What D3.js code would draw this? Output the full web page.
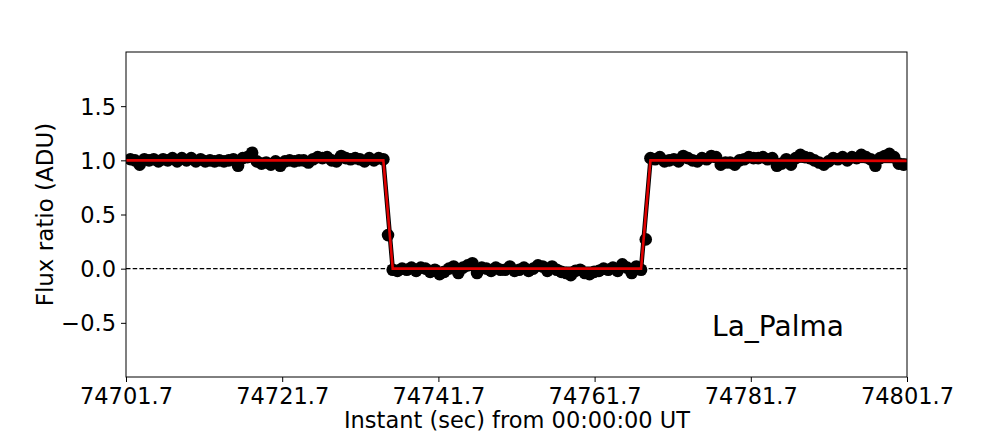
<!DOCTYPE html>
<html>
<head>
<meta charset="utf-8">
<script src="https://cdn.jsdelivr.net/npm/d3@7"></script>
<style>
  html, body { margin: 0; padding: 0; background: #fff; }
  svg { display: block; font-family: "DejaVu Sans", sans-serif; }
</style>
</head>
<body>
<svg id="chart" width="1008" height="432"></svg>
<script>
// ---- data ----
const startTime = 74702.25;   // first sample (s from 00:00:00 UT)
const cadence = 0.6;          // seconds between exposures
const fluxLeft = [
  1.01, 1.00, 0.96, 1.01, 1.00, 1.01, 0.99, 1.01, 1.00, 1.02,
  0.99, 1.02, 1.00, 1.02, 0.99, 1.01, 0.99, 1.00, 0.99, 1.00,
  0.99, 1.00, 1.01, 0.95, 1.02, 1.03, 1.07, 0.99, 0.97, 0.98,
  0.96, 0.99, 0.95, 0.99, 1.00, 0.99, 1.00, 1.00, 0.98, 1.01,
  1.03, 1.02, 1.03, 1.00, 0.99, 1.04, 1.02, 1.01, 1.02, 1.01,
  0.99, 1.02, 1.00, 1.02, 1.01
];
const fluxIngress = [0.31];
const fluxOccult = [
  -0.01, -0.02, 0.00, -0.01, 0.01, -0.02, 0.01, 0.00, -0.03, -0.01,
  -0.05, -0.03, 0.00, 0.02, -0.04, 0.01, 0.03, 0.05, -0.04, 0.01,
  0.00, -0.02, 0.01, -0.01, -0.01, 0.02, -0.02, -0.01, 0.01, -0.02,
  0.00, 0.03, 0.02, -0.02, 0.02, -0.01, -0.03, -0.04, -0.06, -0.02,
  -0.01, -0.04, -0.05, -0.03, -0.02, 0.00, -0.01, 0.01, -0.02, 0.04,
  0.01, -0.04, 0.02, -0.01
];
const fluxEgress = [0.27];
const fluxRight = [
  1.02, 1.01, 1.03, 0.99, 1.00, 1.01, 0.99, 1.04, 1.02, 1.00,
  0.99, 1.02, 1.01, 1.04, 1.03, 0.96, 0.98, 0.98, 0.96, 1.00,
  1.01, 1.03, 1.02, 1.02, 1.03, 1.01, 1.02, 0.95, 0.97, 1.01,
  0.96, 1.02, 1.05, 1.03, 1.02, 1.00, 0.98, 0.96, 0.99, 1.02,
  1.01, 1.03, 1.00, 1.03, 1.02, 1.05, 1.03, 1.01, 0.95, 1.02,
  1.04, 1.06, 1.03, 0.97, 0.96
];
const modelTimes = [74701.7, 74734.65, 74735.85, 74767.65, 74768.85, 74801.7];
const modelFlux  = [1.0, 1.0, 0.0, 0.0, 1.0, 0.995];
const xTicks = [74701.7, 74721.7, 74741.7, 74761.7, 74781.7, 74801.7];
const yTicks = [-0.5, 0.0, 0.5, 1.0, 1.5];
const xDomain = [74701.7, 74801.7];
const yDomain = [-1.0, 2.0];
const siteLabel = "La_Palma";
const xLabel = "Instant (sec) from 00:00:00 UT";
const yLabel = "Flux ratio (ADU)";

// ---- build ----
const flux = [].concat(fluxLeft, fluxIngress, fluxOccult, fluxEgress, fluxRight);
const points = flux.map((f, i) => ({ t: startTime + i * cadence, f }));
const model = modelTimes.map((t, i) => ({ t, f: modelFlux[i] }));

const W = 1008, H = 432;
const m = { left: 126, right: 101, top: 52, bottom: 55 };
const svg = d3.select("#chart");
const x = d3.scaleLinear().domain(xDomain).range([m.left, W - m.right]);
const y = d3.scaleLinear().domain(yDomain).range([H - m.bottom, m.top]);

svg.append("defs").append("clipPath").attr("id", "clip")
  .append("rect").attr("x", m.left).attr("y", m.top)
  .attr("width", W - m.left - m.right).attr("height", H - m.top - m.bottom);

const plot = svg.append("g").attr("clip-path", "url(#clip)");

// zero reference line
plot.append("line")
  .attr("x1", x(xDomain[0])).attr("x2", x(xDomain[1]))
  .attr("y1", y(0)).attr("y2", y(0))
  .attr("stroke", "#000").attr("stroke-width", 1.3)
  .attr("stroke-dasharray", "4.5,2.2");

// data points
plot.append("g").selectAll("circle").data(points).join("circle")
  .attr("cx", d => x(d.t)).attr("cy", d => y(d.f)).attr("r", 6.3)
  .attr("fill", "#000");

// model
const line = d3.line().x(d => x(d.t)).y(d => y(d.f));
plot.append("path").datum(model).attr("d", line)
  .attr("fill", "none").attr("stroke", "#000").attr("stroke-width", 4.5)
  .attr("stroke-linejoin", "miter");
plot.append("path").datum(model).attr("d", line)
  .attr("fill", "none").attr("stroke", "#e00000").attr("stroke-width", 2.6)
  .attr("stroke-linejoin", "miter");

// axes
const fmtX = d3.format(".1f");
const gx = svg.append("g").attr("transform", `translate(0,${H - m.bottom})`)
  .call(d3.axisBottom(x).tickValues(xTicks).tickFormat(fmtX).tickSize(5).tickPadding(5));
const gy = svg.append("g").attr("transform", `translate(${m.left},0)`)
  .call(d3.axisLeft(y).tickValues(yTicks).tickFormat(d3.format(".1f")).tickSize(5).tickPadding(5));
[gx, gy].forEach(g => {
  g.select(".domain").remove();
  g.selectAll(".tick line").attr("stroke", "#000").attr("stroke-width", 1);
  g.selectAll(".tick text").attr("fill", "#000")
    .style("font-family", '"DejaVu Sans", sans-serif').style("font-size", "22.5px");
});
gx.selectAll(".tick text").attr("dy", null).attr("y", 27);
gy.selectAll(".tick text").attr("dy", "0.36em");

// frame
svg.append("rect").attr("x", m.left).attr("y", m.top)
  .attr("width", W - m.left - m.right).attr("height", H - m.top - m.bottom)
  .attr("fill", "none").attr("stroke", "#000").attr("stroke-width", 1);

// labels
svg.append("text").attr("x", (m.left + W - m.right) / 2 + 0.5).attr("y", 428)
  .attr("text-anchor", "middle").style("font-size", "22.5px").attr("fill", "#000")
  .text(xLabel);
svg.append("text")
  .attr("transform", `translate(53,${(m.top + H - m.bottom) / 2}) rotate(-90)`)
  .attr("text-anchor", "middle").style("font-size", "23px").attr("fill", "#000")
  .text(yLabel);
svg.append("text").attr("x", 778).attr("y", 336)
  .attr("text-anchor", "middle").style("font-size", "28px").attr("fill", "#000")
  .text(siteLabel);
</script>
</body>
</html>
